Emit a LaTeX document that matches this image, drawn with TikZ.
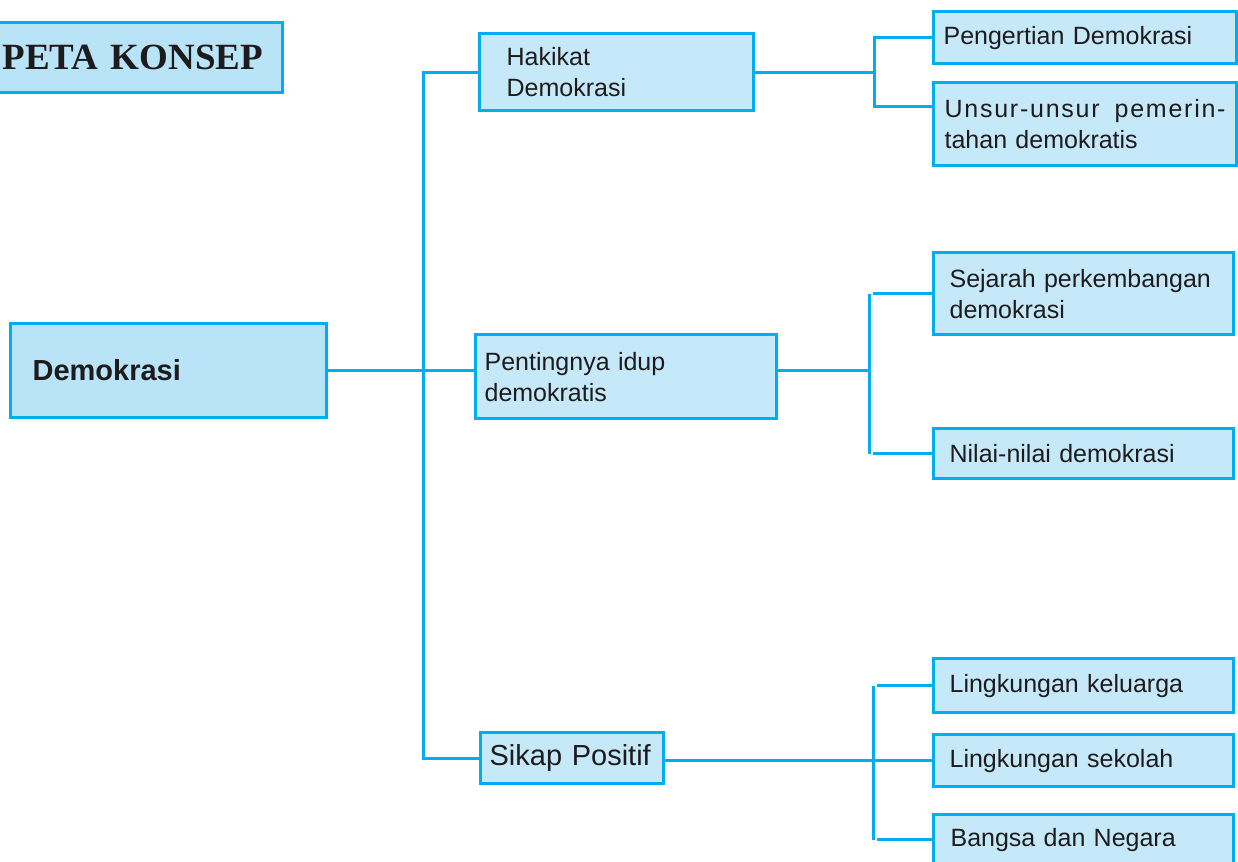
\documentclass[tikz,border=0pt]{standalone}
\usepackage{fontspec}
\setmainfont{Liberation Sans}
\newfontfamily\headfont{Liberation Serif}
\newfontfamily\trackedfont[LetterSpace=7]{Liberation Sans}
\definecolor{edge}{HTML}{00AEEF}
\definecolor{boxfill}{HTML}{C6E9FA}
\definecolor{boxfilldark}{HTML}{B9E4F8}
\definecolor{ink}{HTML}{1E1B1C}

\begin{document}
\begin{tikzpicture}[x=1pt,y=-1pt,
  box/.style={draw=edge, fill=boxfill, line width=3.2pt, anchor=north west,
    align=left, text=ink, font=\fontsize{25}{31}\selectfont, inner ysep=0pt},
  link/.style={draw=edge, line width=3pt}]
\useasboundingbox (0,0) rectangle (1238,861);

% title
\node[box, fill=boxfilldark, minimum width=291pt, minimum height=70pt,
  inner xsep=11pt, text width=269pt,
  font={\headfont\bfseries\fontsize{37}{40}\selectfont}] (peta) at (-10,21) {PETA KONSEP};

% root
\node[box, fill=boxfilldark, minimum width=316pt, minimum height=94pt,
  inner xsep=22pt, text width=272pt,
  font={\bfseries\fontsize{29}{34}\selectfont}] (demo) at (9,322) {Demokrasi};

% second level
\node[box, minimum width=274pt, minimum height=77pt, inner xsep=27pt,
  text width=220pt] (hak) at (478,32) {Hakikat\\Demokrasi};
\node[box, minimum width=301pt, minimum height=84pt, inner xsep=9pt,
  text width=283pt] (pent) at (474,333) {Pentingnya idup\\demokratis};
\node[box, minimum width=183pt, minimum height=51pt, inner xsep=9pt,
  text width=165pt, font=\fontsize{29}{34}\selectfont] (sik) at (479,731) {Sikap Positif};

% third level
\node[box, minimum width=303pt, minimum height=52pt, inner xsep=10pt,
  text width=283pt] (peng) at (932,10) {Pengertian Demokrasi};
\node[box, minimum width=303pt, minimum height=83pt, inner xsep=11pt,
  text width=281pt] (uns) at (932,81) {{\trackedfont Unsur-unsur\hfill pemerin-}\\tahan demokratis};
\node[box, minimum width=300pt, minimum height=82pt, inner xsep=16pt,
  text width=268pt] (sej) at (932,251) {Sejarah perkembangan\\demokrasi};
\node[box, minimum width=300pt, minimum height=50pt, inner xsep=16pt,
  text width=268pt] (nil) at (932,427) {Nilai-nilai demokrasi};
\node[box, minimum width=300pt, minimum height=54pt, inner xsep=16pt,
  text width=268pt] (kel) at (932,657) {Lingkungan keluarga};
\node[box, minimum width=300pt, minimum height=52pt, inner xsep=16pt,
  text width=268pt] (sek) at (932,733) {Lingkungan sekolah};
\node[box, minimum width=300pt, minimum height=50pt, inner xsep=17pt,
  text width=266pt] (ban) at (932,813) {Bangsa dan Negara};

% bracket positions
\coordinate (trunk) at (423,0);
\coordinate (brA) at (874,0);
\coordinate (brB) at (869,0);
\coordinate (brBs) at (873,0);
\coordinate (brC) at (873,0);
\coordinate (brCs) at (877,0);
\coordinate (unsIn) at ([yshift=-26pt]uns.north west);

% trunk
\draw[link] (hak.west) -- (hak.west -| trunk) |- (sik.west);
\draw[link] (demo.east) -- (demo.east -| pent.west);

% Hakikat branch
\draw[link] (hak.east) -- (hak.east -| brA);
\draw[link] (peng.west) -| (brA |- unsIn) -- (unsIn);

% Pentingnya branch
\draw[link] (demo.east -| pent.east) -- (demo.east -| brB);
\draw[link] (brB |- sej.west) -- (brB |- nil.west);
\draw[link] (brBs |- sej.west) -- (sej.west);
\draw[link] (brBs |- nil.west) -- (nil.west);

% Sikap Positif branch
\draw[link] (sek.west -| sik.east) -- (sek.west);
\draw[link] (brC |- kel.west) -- (brC |- ban.west);
\draw[link] (brCs |- kel.west) -- (kel.west);
\draw[link] (brCs |- ban.west) -- (ban.west);
\end{tikzpicture}
\end{document}
